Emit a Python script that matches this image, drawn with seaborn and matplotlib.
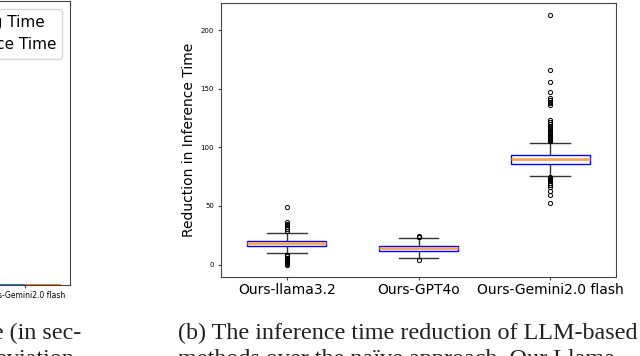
import matplotlib
matplotlib.use("Agg")
import matplotlib.pyplot as plt
import numpy as np
import pandas as pd
import seaborn as sns

# ---------------- data ----------------
models = ["Ours-llama3.2", "Ours-GPT4o", "Ours-Gemini2.0 flash"]

# per-run reduction in inference time
llama_values = [
    0.0, 0.5, 1.0, 2.0, 3.0, 4.0, 5.0, 6.0, 7.0, 8.0, 8.5,
    9.7, 13.0,
    15.7, 15.7, 15.7, 15.7, 15.7, 15.7, 15.7, 15.7, 15.7, 15.7, 15.7, 15.7,
    16.8,
    18.0, 18.0, 18.0, 18.0, 18.0, 18.0, 18.0, 18.0, 18.0, 18.0, 18.0, 18.0,
    19.2,
    20.3, 20.3, 20.3, 20.3, 20.3, 20.3, 20.3, 20.3, 20.3, 20.3, 20.3, 20.3,
    23.0, 25.0, 26.5,
    29.0, 30.5, 32.0, 33.5, 35.0, 36.0, 49.5,
]
gpt4o_values = [
    4.3,
    6.0, 9.0,
    11.5, 11.5, 11.5, 11.5, 11.5, 11.5, 11.5, 11.5, 11.5, 11.5, 11.5, 11.5,
    12.6,
    13.7, 13.7, 13.7, 13.7, 13.7, 13.7, 13.7, 13.7, 13.7, 13.7, 13.7, 13.7,
    14.9,
    16.0, 16.0, 16.0, 16.0, 16.0, 16.0, 16.0, 16.0, 16.0, 16.0, 16.0, 16.0,
    19.0, 22.5,
    23.4, 23.7, 24.0,
]
gemini_values = [
    52.7, 59.6, 63.0, 66.0, 68.0, 69.5, 71.0, 72.0, 73.0, 73.5, 74.0, 74.5,
    75.5, 79.0, 81.0, 83.0, 84.5,
    86.0, 86.0, 86.0, 86.0, 86.0, 86.0, 86.0, 86.0, 86.0, 86.0,
    86.0, 86.0, 86.0, 86.0, 86.0, 86.0, 86.0, 86.0, 86.0, 86.0,
    88.0,
    89.7, 89.7, 89.7, 89.7, 89.7, 89.7, 89.7, 89.7, 89.7, 89.7, 89.7,
    89.7, 89.7, 89.7, 89.7, 89.7, 89.7, 89.7, 89.7, 89.7, 89.7, 89.7,
    91.5,
    93.3, 93.3, 93.3, 93.3, 93.3, 93.3, 93.3, 93.3, 93.3, 93.3,
    93.3, 93.3, 93.3, 93.3, 93.3, 93.3, 93.3, 93.3, 93.3, 93.3,
    93.3, 93.3, 93.3, 93.3, 93.3, 93.3, 93.3, 93.3, 93.3,
    99.0, 103.8,
    105.0, 105.5, 106.0, 107.0, 108.0, 109.0, 110.0, 111.0, 112.0, 113.0,
    114.0, 115.5, 117.0, 118.5, 120.0, 121.5, 123.0,
    136.5, 137.8, 139.0, 140.5, 142.0, 147.0, 156.0, 165.8, 212.5,
]

# left (mostly cropped) panel: time per method
time_series = ["Training Time", "Inference Time"]
training_time = [380.0, 120.0, 1.5]
inference_time = [95.0, 30.0, 0.8]

y_ticks = [0, 50, 100, 150, 200]

caption_b_1 = "(b) The inference time reduction of LLM-based"
caption_b_2 = "methods over the na\u00efve approach. Our Llama"
caption_a_1 = "(a) Training and inference time (in sec-"
caption_a_2 = "onds) with standard deviation"

# ---------------- figure ----------------
W, H = 640, 356
fig = plt.figure(figsize=(W / 100, H / 100), dpi=100)
plt.rcParams["font.family"] = ["DejaVu Sans"]

def px_rect(left, top, right, bottom):
    return [left / W, 1 - bottom / H, (right - left) / W, (bottom - top) / H]

spine_color = "#444444"

# ---- left panel (cropped) ----
axL = fig.add_axes(px_rect(-200, 1, 70, 285))
df_time = pd.DataFrame({
    "model": models * 2,
    "series": [time_series[0]] * 3 + [time_series[1]] * 3,
    "seconds": training_time + inference_time,
})
sns.barplot(data=df_time, x="model", y="seconds", hue="series",
            order=models, hue_order=time_series, ax=axL, errorbar=None)
axL.set_xlabel("")
axL.set_ylabel("")
axL.tick_params(axis="x", labelsize=5.5, length=2, pad=2, color=spine_color)
axL.tick_params(axis="y", labelsize=5.5, length=2)
for s in axL.spines.values():
    s.set_color(spine_color)
    s.set_linewidth(0.8)
axL.legend(loc="upper right", fontsize=11, borderaxespad=0.5)

# ---- right panel: box plot ----
axR = fig.add_axes(px_rect(221, 3, 616, 277))
df_red = pd.DataFrame({
    "model": [models[0]] * len(llama_values) + [models[1]] * len(gpt4o_values)
             + [models[2]] * len(gemini_values),
    "reduction": llama_values + gpt4o_values + gemini_values,
})
sns.boxplot(
    data=df_red, x="model", y="reduction", order=models, ax=axR,
    width=0.6, whis=1.5, color="white", linecolor="#333333", linewidth=1.0,
    fliersize=3,
    boxprops=dict(edgecolor="#0000ff", facecolor="white", linewidth=1.0),
    medianprops=dict(color="#f9a65a", linewidth=2.0),
    whiskerprops=dict(color="#333333", linewidth=1.0),
    capprops=dict(color="#333333", linewidth=1.0),
    flierprops=dict(marker="o", markersize=3, markerfacecolor="none",
                    markeredgecolor="black", markeredgewidth=0.7),
)
axR.set_xlabel("")
axR.set_ylabel("Reduction in Inference Time", fontsize=10, labelpad=3)
axR.set_yticks(y_ticks)
axR.tick_params(axis="y", labelsize=5, length=2.5, pad=2.5, color=spine_color)
axR.tick_params(axis="x", labelsize=10, length=2, pad=2, color=spine_color)
for s in axR.spines.values():
    s.set_color(spine_color)
    s.set_linewidth(0.8)

# ---- captions ----
serif = ["Liberation Serif", "DejaVu Serif"]
fig.text(178 / W, 1 - 339 / H, caption_b_1, family=serif, fontsize=17.4,
         ha="left", va="baseline", color="#222222")
fig.text(178 / W, 1 - 365 / H, caption_b_2, family=serif, fontsize=17.4,
         ha="left", va="baseline", color="#222222")
fig.text(81 / W, 1 - 339 / H, caption_a_1, family=serif, fontsize=17.4,
         ha="right", va="baseline", color="#222222")
fig.text(74 / W, 1 - 365 / H, caption_a_2, family=serif, fontsize=17.4,
         ha="right", va="baseline", color="#222222")

fig.savefig("out.png", dpi=100)
